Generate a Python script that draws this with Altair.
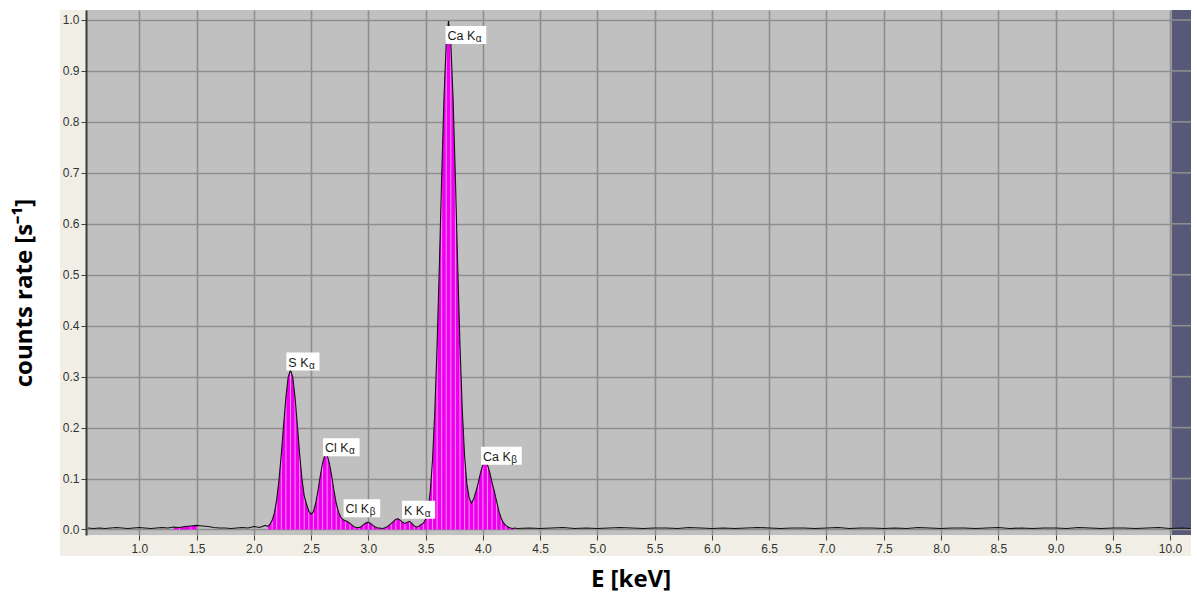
import altair as alt
import numpy as np
import pandas as pd

# ---------------- data ----------------
energy_low = [round(0.55 + 0.05 * i, 2) for i in range(32)]          # 0.55 .. 2.10 keV
counts_low = [0.003, 0.002, 0.003, 0.002, 0.003, 0.004, 0.003, 0.002, 0.003, 0.004,
              0.003, 0.002, 0.003, 0.004, 0.003, 0.005, 0.004, 0.006, 0.007, 0.008,
              0.007, 0.006, 0.004, 0.003, 0.003, 0.002, 0.003, 0.004, 0.003, 0.006,
              0.004, 0.008]

energy_peak = [round(2.12 + 0.02 * i, 2) for i in range(110)]        # 2.12 .. 4.30 keV
counts_peak = [0.006, 0.010, 0.018, 0.033, 0.059, 0.098, 0.148, 0.205, 0.259, 0.299,
               0.313, 0.299, 0.259, 0.205, 0.148, 0.100, 0.066, 0.050, 0.036, 0.030,
               0.035, 0.051, 0.076, 0.105, 0.130, 0.146, 0.146, 0.130, 0.105, 0.076,
               0.051, 0.034, 0.024, 0.019, 0.017, 0.015, 0.012, 0.008, 0.005, 0.004,
               0.004, 0.006, 0.010, 0.013, 0.014, 0.012, 0.008, 0.005, 0.003, 0.003,
               0.002, 0.003, 0.005, 0.008, 0.012, 0.016, 0.020, 0.021, 0.018, 0.014,
               0.012, 0.014, 0.016, 0.012, 0.007, 0.005, 0.006, 0.010, 0.012, 0.020,
               0.038, 0.074, 0.135, 0.230, 0.360, 0.518, 0.690, 0.845, 0.955, 0.998,
               0.955, 0.845, 0.690, 0.518, 0.362, 0.235, 0.145, 0.090, 0.062, 0.052,
               0.060, 0.075, 0.092, 0.112, 0.127, 0.132, 0.127, 0.112, 0.092, 0.075,
               0.055, 0.036, 0.022, 0.013, 0.008, 0.005, 0.003, 0.002, 0.003, 0.002]

energy_high = [round(4.4 + 0.1 * i, 2) for i in range(58)] + [10.18]  # 4.4 .. 10.1, 10.18
counts_high = [0.003, 0.002, 0.003, 0.004, 0.002, 0.003, 0.002, 0.003, 0.004, 0.003,
               0.002, 0.003, 0.003, 0.002, 0.004, 0.003, 0.002, 0.003, 0.002, 0.003,
               0.004, 0.003, 0.002, 0.003, 0.003, 0.002, 0.003, 0.004, 0.002, 0.003,
               0.003, 0.002, 0.003, 0.002, 0.004, 0.003, 0.002, 0.003, 0.003, 0.002,
               0.003, 0.004, 0.002, 0.003, 0.002, 0.003, 0.003, 0.002, 0.004, 0.003,
               0.002, 0.003, 0.003, 0.002, 0.003, 0.004, 0.002, 0.003, 0.002]

# regions of interest (filled magenta)
roi_start = [1.30, 2.12]
roi_end = [1.52, 4.28]

# peak labels
label_main = ["S K", "Cl K", "Cl K", "K K", "Ca K", "Ca K"]
label_sub = ["α", "α", "β", "α", "α", "β"]
label_energy = [2.31, 2.63, 2.81, 3.32, 3.70, 4.01]
label_value = [0.312, 0.144, 0.024, 0.021, 0.953, 0.127]

x_ticks = [1.0, 1.5, 2.0, 2.5, 3.0, 3.5, 4.0, 4.5, 5.0, 5.5,
           6.0, 6.5, 7.0, 7.5, 8.0, 8.5, 9.0, 9.5, 10.0]
y_ticks = [0.0, 0.1, 0.2, 0.3, 0.4, 0.5, 0.6, 0.7, 0.8, 0.9, 1.0]

strip_start = [10.015]   # detector cut-off region (dark strip)

# ---------------- build table ----------------
E = list(energy_low) + list(energy_peak) + list(energy_high)
V = list(counts_low) + list(counts_peak) + list(counts_high)
df = pd.DataFrame({"E": E, "v": V})
df["roi"] = -1
for i, (a, b) in enumerate(zip(roi_start, roi_end)):
    df.loc[(df["E"] >= a - 1e-9) & (df["E"] <= b + 1e-9), "roi"] = i
df["stripe"] = (np.arange(len(df)) % 2 == 0) & (df["roi"] >= 0)

W, H = 1105, 525
PAD_L, PAD_T, PAD_R, PAD_B = 86, 10, 6, 61
X_DOM = [0.5346, 10.183]
Y_DOM = [-0.0108, 1.0196]

xscale = alt.Scale(domain=X_DOM, nice=False, zero=False)
yscale = alt.Scale(domain=Y_DOM, nice=False, zero=False)

LABEL_FONT = "Liberation Sans"
xaxis = alt.Axis(values=x_ticks, format=".1f", title=None, grid=True,
                 gridColor="#8e8e8e", gridWidth=1.6, domain=False,
                 tickColor="#404040", tickSize=5, tickWidth=1,
                 labelFont=LABEL_FONT, labelFontSize=12, labelColor="#333333",
                 labelPadding=3, labelFlush=False, labelOverlap=False)
yaxis = alt.Axis(values=y_ticks, format=".1f", title=None, grid=True,
                 gridColor="#8e8e8e", gridWidth=1.6, domain=True,
                 domainColor="#3a3a3a", domainWidth=2,
                 tickColor="#404040", tickSize=5, tickWidth=1,
                 labelFont=LABEL_FONT, labelFontSize=12, labelColor="#333333",
                 labelPadding=2, labelFlush=False, labelOverlap=False)

X = alt.X("E:Q", scale=xscale, axis=xaxis)
Y = alt.Y("v:Q", scale=yscale, axis=yaxis)

one = pd.DataFrame({"a": [0]})

# white surroundings outside the beige panel
white = []
for (x1, x2, y1, y2) in [(-PAD_L, -26, -PAD_T, H + PAD_B),
                         (-PAD_L, W + PAD_R, -PAD_T, 0),
                         (-PAD_L, W + PAD_R, H + 21, H + PAD_B),
                         (W, W + PAD_R, -PAD_T, H + PAD_B)]:
    white.append(alt.Chart(one).mark_rect(color="white").encode(
        x=alt.value(x1), x2=alt.value(x2), y=alt.value(y1), y2=alt.value(y2)))

strip_df = pd.DataFrame({"E": strip_start})
strip = alt.Chart(strip_df).mark_rect(color="#585878").encode(
    x=X, x2=alt.value(W), y=alt.value(0), y2=alt.value(H))

strip_grid_df = pd.DataFrame({"v": y_ticks, "E": strip_start * len(y_ticks)})
strip_grid = alt.Chart(strip_grid_df).mark_rule(color="#8e8e8e", strokeWidth=1.6).encode(
    x=X, x2=alt.value(W), y=Y)

area = alt.Chart(df).transform_filter("datum.roi >= 0").mark_area(
    color="#EE00EE", opacity=1, interpolate="linear").encode(
    x=X, y=Y, y2=alt.datum(0), detail="roi:N")

stripes = alt.Chart(df).transform_filter("datum.stripe").mark_rule(
    color="#FF8CFF", strokeWidth=1).encode(x=X, y=Y, y2=alt.datum(0))

line = alt.Chart(df).mark_line(color="#101010", strokeWidth=1.1).encode(x=X, y=Y)

# labels
cw = {"S": 667, "K": 667, "C": 722, "l": 222, "a": 556, " ": 278}
LFS = 12.5
lab_layers = []
for i in range(len(label_main)):
    main_w = sum(cw.get(c, 600) for c in label_main[i]) * LFS / 1000.0
    box_w = 3 + main_w + 7 + 3
    ldf = pd.DataFrame({"E": [label_energy[i]], "v": [label_value[i]],
                        "m": [label_main[i]], "s": [label_sub[i]]})
    box = alt.Chart(ldf).mark_rect(color="white", width=box_w, height=18,
                                   xOffset=box_w / 2 - 3, yOffset=-9).encode(x=X, y=Y)
    t1 = alt.Chart(ldf).mark_text(align="left", baseline="alphabetic", dx=-1, dy=-4,
                                  font=LABEL_FONT, fontSize=LFS, color="#1a1a1a").encode(
        x=X, y=Y, text="m:N")
    t2 = alt.Chart(ldf).mark_text(align="left", baseline="alphabetic",
                                  dx=-1 + main_w + 0.5, dy=-2,
                                  font=LABEL_FONT, fontSize=10, color="#1a1a1a").encode(
        x=X, y=Y, text="s:N")
    lab_layers += [box, t1, t2]

ytitle = alt.Chart(one).mark_text(text="counts rate [s⁻¹]", angle=270, font="Open Sans",
                                  fontWeight="bold", fontSize=24, color="black",
                                  align="center", baseline="middle").encode(
    x=alt.value(25 - PAD_L), y=alt.value(293 - PAD_T))
xtitle = alt.Chart(one).mark_text(text="E [keV]", font="Open Sans", fontWeight="bold",
                                  fontSize=24, color="black", align="center",
                                  baseline="middle").encode(
    x=alt.value(631 - PAD_L), y=alt.value(580 - PAD_T))

chart = alt.layer(*white, strip, strip_grid, area, stripes, line, *lab_layers,
                  ytitle, xtitle).properties(
    width=W, height=H,
    autosize=alt.AutoSizeParams(type="none"),
    padding={"left": PAD_L, "top": PAD_T, "right": PAD_R, "bottom": PAD_B},
    background="#F1EFE5",
).configure_view(fill="#C0C0C0", stroke=None)

chart.save("out.html", embed_options={"renderer": "svg", "actions": False})
